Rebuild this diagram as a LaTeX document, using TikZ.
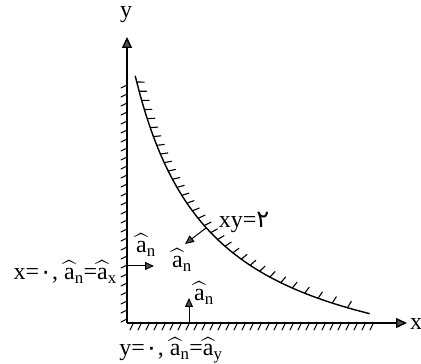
\documentclass[tikz,border=0pt]{standalone}
\usepackage{amsmath}
\usepackage{fontspec}
\setmainfont{Liberation Serif}
\newfontfamily\fafont[Script=Arabic]{DejaVu Sans}
\usetikzlibrary{arrows.meta}
\definecolor{headgray}{RGB}{80,80,80}
\newcommand{\unitvec}[1]{$\widehat{\text{a}}_{\text{#1}}$}
\newcommand{\fadigit}[1]{{\fafont #1}}
\tikzset{
  axisline/.style ={line width=1.4pt, -{Triangle[length=11pt,width=10pt,fill=headgray]}},
  wallline/.style ={line width=1.4pt},
  hatchline/.style={line width=1.1pt, line cap=round},
  normarrow/.style={line width=1pt, -{Triangle[length=9pt,width=8pt,fill=headgray]}},
  lbl/.style={inner sep=1pt, font=\fontsize{24}{28}\selectfont},
}

\begin{document}
\begin{tikzpicture}[x=1pt, y=1pt]
  \useasboundingbox (0,0) rectangle (421,364);
  \coordinate (O) at (127,41);
  \coordinate (Xend) at (407,41);
  \coordinate (Yend) at (127,327);
  % walls
  \foreach \yy in {4,13,...,243}
    \draw[hatchline] (127,41+\yy) -- (121,38+\yy);
  \foreach \xx in {6,14,...,246}
    \draw[hatchline] (127+\xx,40) -- (124+\xx,34);
  \draw[wallline] plot[domain=-0.71:0.696, samples=60, smooth, variable=\s]
    ({59+155*exp(\s)}, {-27+155*exp(-\s)});
  \foreach \k in {0,...,31} {
    \pgfmathsetmacro{\s}{-0.69+0.03*\k+0.0004*\k*\k}
    \pgfmathsetmacro{\u}{155*exp(\s)}
    \pgfmathsetmacro{\v}{155*exp(-\s)}
    \pgfmathsetmacro{\ang}{atan2(-\v,\u)}
    \draw[hatchline] (59+\u,-27+\v) -- ++({\ang+75}:7.5);
  }
  \draw[axisline] (O) -- (Xend);
  \draw[axisline] (O) -- (Yend);
  % labels
  \node[lbl] (labY) at (126,349) {y};
  \node[lbl, anchor=west] (labX) at (409,40) {x};
  \node[lbl] (labCurve) at (244,142) {xy=\fadigit{۲}};
  \node[lbl, anchor=east] (labLeft) at (118,92) {x=\fadigit{۰}, \unitvec{n}=\unitvec{x}};
  \node[lbl] (labBottom) at (171,14) {y=\fadigit{۰}, \unitvec{n}=\unitvec{y}};
  % normal vectors
  \coordinate (nLs) at (128,98);
  \coordinate (nLe) at (154,98);
  \draw[normarrow] (nLs) -- (nLe);
  \node[lbl] (anL) at (146,119) {\unitvec{n}};
  \coordinate (nBs) at (189,41);
  \coordinate (nBe) at (189,66);
  \draw[normarrow] (nBs) -- (nBe);
  \node[lbl] (anB) at (204,71) {\unitvec{n}};
  \coordinate (nCs) at (206,136);
  \coordinate (nCe) at (185,120);
  \draw[normarrow] (nCs) -- (nCe);
  \node[lbl] (anC) at (182,104) {\unitvec{n}};
\end{tikzpicture}
\end{document}
